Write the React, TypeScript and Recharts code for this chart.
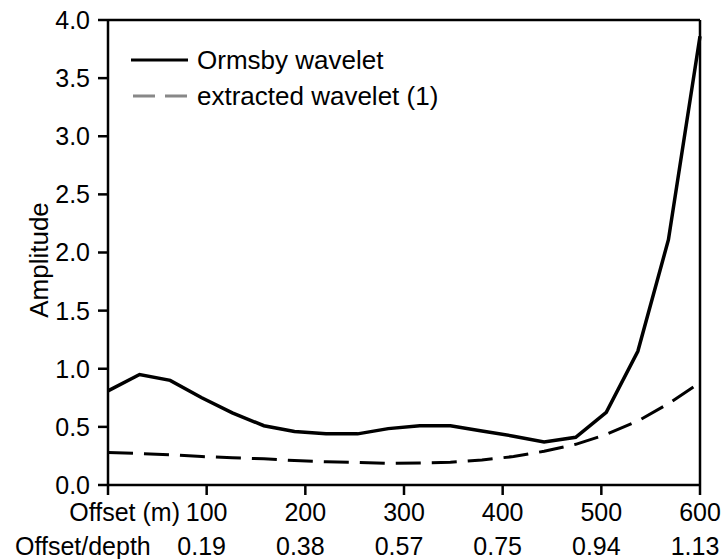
import React from 'react';
import { LineChart, Line, XAxis, YAxis, ReferenceLine, Legend } from 'recharts';

// offsets (m) sampled along the profile
const offsets = [0, 32, 63, 95, 126, 158, 189, 221, 253, 284, 316, 347, 379, 411, 442, 474, 505, 537, 568, 600];
const ormsbyAmp = [0.81, 0.95, 0.9, 0.75, 0.62, 0.51, 0.46, 0.44, 0.44, 0.485, 0.51, 0.51, 0.465, 0.42, 0.37, 0.41, 0.625, 1.15, 2.11, 3.86];
const extractedAmp = [0.28, 0.27, 0.26, 0.245, 0.235, 0.225, 0.21, 0.2, 0.195, 0.185, 0.19, 0.195, 0.215, 0.245, 0.29, 0.35, 0.435, 0.55, 0.7, 0.88];

const offsetTicks = [0, 100, 200, 300, 400, 500, 600];
const depthRatios = ['', '0.19', '0.38', '0.57', '0.75', '0.94', '1.13'];
const amplitudeTicks = [0, 0.5, 1, 1.5, 2, 2.5, 3, 3.5, 4];

const seriesNames = ['Ormsby wavelet', 'extracted wavelet (1)'];

const FONT = '"Liberation Sans", Arial, Helvetica, sans-serif';

const data = offsets.map((x, i) => ({
    offset: x,
    ormsby: ormsbyAmp[i],
    extracted: extractedAmp[i],
}));

// two-row tick: offset on top, offset/depth ratio below
const OffsetTick = ({ x, y, payload, index }: { x: number; y: number; payload: { value: number }; index: number }) => {
    if (payload.value === 0) {
        return (
            <g fill="#000" fontSize={25} fontFamily={FONT}>
                <text x={x + 72} y={y + 24} textAnchor="end">Offset (m)</text>
                <text x={x - 93} y={y + 58} textAnchor="start">Offset/depth</text>
            </g>
        );
    }
    return (
        <g fill="#000" fontSize={25} fontFamily={FONT}>
            <text x={x} y={y + 24} textAnchor="middle">{payload.value}</text>
            <text x={x - 5} y={y + 58} textAnchor="middle">{depthRatios[index]}</text>
        </g>
    );
};

const AmplitudeLabel = () => (
    <text
        x={48}
        y={260}
        transform="rotate(-90, 48, 260)"
        textAnchor="middle"
        fill="#000"
        fontSize={26}
        fontFamily={FONT}
    >
        Amplitude
    </text>
);

const WaveletLegend = () => (
    <div style={{ fontFamily: FONT, fontSize: 26, color: '#000' }}>
        {seriesNames.map((name, i) => (
            <div key={name} style={{ display: 'flex', alignItems: 'center', height: 36, whiteSpace: 'nowrap' }}>
                <svg width={58} height={36}>
                    {i === 0 ? (
                        <line x1={0} y1={18} x2={57} y2={18} stroke="#000" strokeWidth={3} />
                    ) : (
                        <line x1={2} y1={18} x2={58} y2={18} stroke="#888" strokeWidth={3} strokeDasharray="22 10" />
                    )}
                </svg>
                <span style={{ marginLeft: 8 }}>{name}</span>
            </div>
        ))}
    </div>
);

export default function App() {
    return (
        <div style={{ position: 'absolute', left: 0, top: 0, background: '#fff' }}>
            <LineChart
                width={724}
                height={559}
                data={data}
                margin={{ top: 20, right: 24, bottom: 0, left: 0 }}
                style={{ fontFamily: FONT }}
            >
                <XAxis
                    dataKey="offset"
                    type="number"
                    domain={[0, 600]}
                    ticks={offsetTicks}
                    height={74}
                    tickSize={10}
                    tickMargin={2}
                    axisLine={{ stroke: '#000', strokeWidth: 2.5 }}
                    tickLine={{ stroke: '#000', strokeWidth: 2.5 }}
                    tick={OffsetTick}
                    interval={0}
                />
                <YAxis
                    type="number"
                    domain={[0, 4]}
                    ticks={amplitudeTicks}
                    width={108}
                    tickSize={10}
                    tickMargin={8}
                    tickFormatter={(v: number) => v.toFixed(1)}
                    axisLine={{ stroke: '#000', strokeWidth: 2.5 }}
                    tickLine={{ stroke: '#000', strokeWidth: 2.5 }}
                    tick={{ fill: '#000', fontSize: 25, fontFamily: FONT }}
                    interval={0}
                    label={<AmplitudeLabel />}
                />
                {/* close the frame on top and right */}
                <ReferenceLine y={4} stroke="#000" strokeWidth={2.5} />
                <ReferenceLine x={600} stroke="#000" strokeWidth={2.5} />
                <Legend
                    layout="horizontal"
                    align="center"
                    verticalAlign="middle"
                    content={<WaveletLegend />}
                    wrapperStyle={{ top: 42, left: 131, width: 'auto', height: 'auto' }}
                />
                <Line
                    type="linear"
                    dataKey="extracted"
                    name={seriesNames[1]}
                    stroke="#000"
                    strokeWidth={3}
                    strokeDasharray="25 11"
                    dot={false}
                    activeDot={false}
                    isAnimationActive={false}
                />
                <Line
                    type="linear"
                    dataKey="ormsby"
                    name={seriesNames[0]}
                    stroke="#000"
                    strokeWidth={3.5}
                    dot={false}
                    activeDot={false}
                    isAnimationActive={false}
                />
            </LineChart>
        </div>
    );
}
